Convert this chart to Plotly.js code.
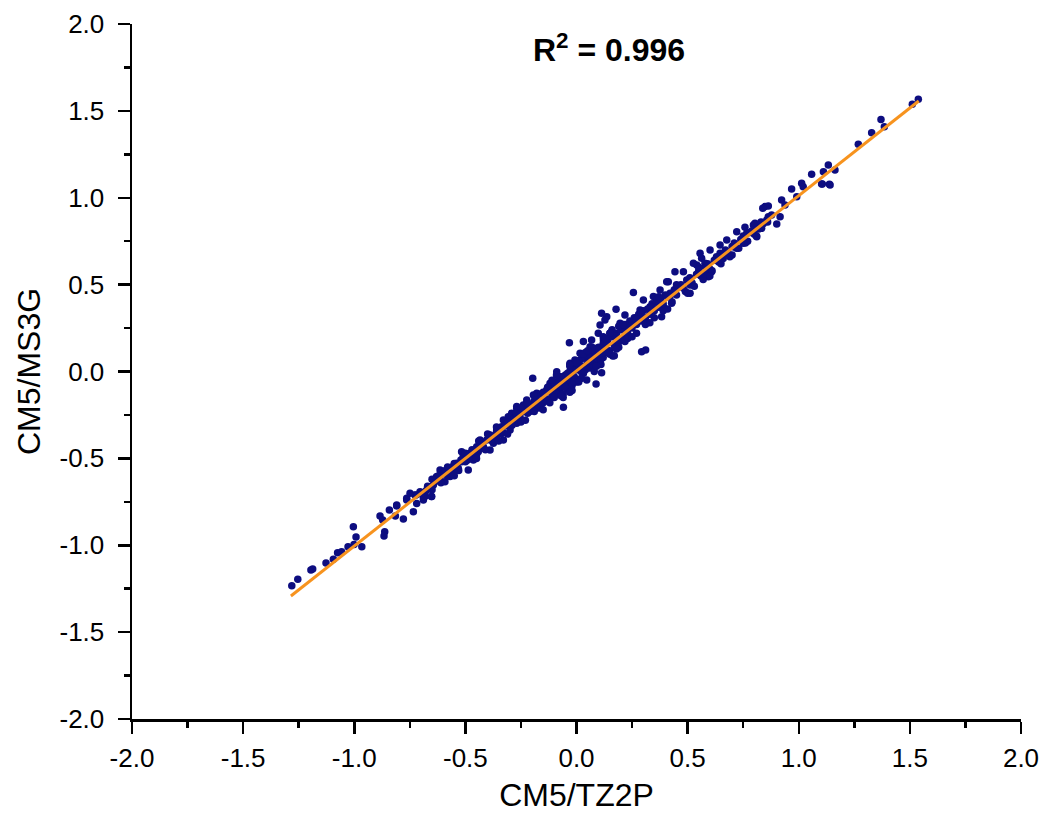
<!DOCTYPE html>
<html>
<head>
<meta charset="utf-8">
<script src="https://cdn.plot.ly/plotly-3.0.1.min.js"></script>
<style>html,body{margin:0;padding:0;background:#fff;}#chart{width:1044px;height:821px;}</style>
</head>
<body>
<div id="chart"></div>
<script>
// CM5/TZ2P (x) vs CM5/MS3G (y) charges
const xVals = [
-1.281,-1.254,-1.195,-1.187,-1.127,-1.094,-1.075,-1.057,-1.028,-1.004,-0.992,-1.001,-0.966,-0.884,-0.863,-0.866,-0.872,-0.842,-0.809,-0.815,-0.779,-0.764,-0.734,-0.722,-0.689,-0.652,
-0.809,-0.764,-0.727,-0.719,-0.682,-0.652,-0.674,-0.644,-0.614,-0.614,-0.592,-0.569,-0.554,-0.532,-0.517,-0.487,-0.494,-0.464,-0.517,-0.442,-0.434,-0.419,-0.389,-0.374,-0.389,-0.359,-0.329,-0.337,-0.314,-0.299,-0.284,-0.269,-0.247,-0.224,-0.269,-0.307,
-0.749,-0.704,-0.659,-0.577,-0.539,-0.472,-0.449,-0.404,-0.359,-0.329,-0.292,-0.254,-0.239,-0.629,
0.178,0.113,0.136,0.106,0.098,-0.032,0.031,0.068,0.158,0.196,0.218,0.163,0.113,0.088,-0.197,-0.059,-0.269,-0.179,-0.119,-0.089,-0.029,0.016,0.061,0.121,0.151,0.211,-0.149,-0.104,-0.074,-0.044,0.001,0.031,-0.014,0.061,0.083,-0.224,-0.194,-0.239,-0.277,0.046,0.091,0.181,0.226,0.128,-0.134,-0.059,-0.007,
0.848,0.863,0.796,0.766,0.721,0.676,0.646,0.601,0.556,0.563,0.541,0.481,0.443,0.511,0.413,0.376,0.346,0.301,0.256,0.286,0.391,0.428,0.511,0.608,0.593,0.690,0.750,0.811,0.833,0.631,0.578,0.496,0.331,0.361,0.421,0.383,0.218,0.646,0.706,0.526,0.406,0.293,0.311,
1.538,1.511,1.370,1.385,1.328,1.268,1.133,1.163,1.111,1.058,1.103,1.138,1.013,1.020,0.968,0.991,0.923,0.938,0.863,0.838,0.916,0.878,0.856,0.901,0.803,0.758,0.826,1.141,1.106,
-0.20,-0.18,-0.17,-0.16,-0.15,-0.14,-0.13,-0.12,-0.11,-0.10,-0.10,-0.09,-0.08,-0.07,-0.07,-0.06,-0.05,-0.05,-0.04,-0.03,-0.03,-0.02,-0.01,-0.01,0.00,0.00,0.01,0.02,0.02,0.03,0.04,0.04,0.05,0.06,0.06,0.07,0.08,0.08,0.09,0.10,0.10,0.11,0.12,0.12,0.13,0.14,0.15,0.16,0.17,0.18,0.19,0.20,0.21,0.22,0.23,0.24,0.25,0.26,0.27,0.28,0.29,0.30,0.31,0.32,0.33,0.34,0.35,0.36,0.37,0.38,0.39,0.40,0.42,0.44,0.45,0.46,0.48,0.50,0.52,0.54,0.56,0.58,0.60,0.62,0.64,0.66,0.68,0.70,0.72,0.74,0.76,0.78,0.80,0.82,0.84,0.86,
-0.70,-0.68,-0.66,-0.64,-0.62,-0.60,-0.58,-0.56,-0.54,-0.52,-0.50,-0.48,-0.46,-0.44,-0.42,-0.40,-0.38,-0.36,-0.34,-0.32,-0.30,-0.28,-0.26,-0.24,-0.22,-0.21,-0.19,
-0.69,-0.67,-0.65,-0.63,-0.61,-0.59,-0.57,-0.55,-0.53,-0.51,
-0.49,-0.47,-0.45,-0.43,-0.41,-0.39,-0.37,-0.35,-0.33,-0.31,
-0.29,-0.27,-0.25,-0.23,-0.21,-0.19,-0.17,-0.15,-0.13,-0.11,
-0.09,-0.07,-0.05,-0.03,-0.01,0.01,0.03,0.05,0.07,0.09,
0.11,0.13,0.15,0.17,0.19,0.21,0.23,0.25,0.27,0.29,
0.31,0.33,0.35,0.37,0.39,0.41,0.43,0.47,0.49,0.51,
0.53,0.55,0.57,0.59,0.61,0.63,0.65,0.67,0.69,0.71,
0.73,0.75,0.77,0.79,0.81,0.83,
-0.25,-0.22,-0.19,-0.16,-0.13,-0.10,-0.08,-0.06,-0.04,-0.02,
0.00,0.02,0.04,0.06,0.08,0.10,0.12,0.14,0.16,0.18,
-0.12,-0.09,-0.03,0.03,0.07,0.11,0.15,0.19,0.23,0.27,
-0.58,-0.44,-0.36,-0.48,-0.62,0.34,0.44,0.58,0.66,0.74,
-0.35,-0.31,-0.27,-0.23,-0.19,-0.15,-0.11,-0.07,-0.03,0.01,
0.05,0.09,0.13,0.17,0.21,0.25,0.29,0.33,0.37,0.41,
-0.55,-0.50,-0.45,-0.40,-0.65,0.45,0.50,0.55,0.60,0.70
];
const yVals = [
-1.233,-1.196,-1.142,-1.137,-1.102,-1.081,-1.043,-1.037,-1.008,-0.893,-0.953,-0.995,-1.008,-0.832,-0.922,-0.947,-0.855,-0.797,-0.768,-0.832,-0.849,-0.740,-0.807,-0.711,-0.740,-0.720,
-0.774,-0.730,-0.711,-0.759,-0.720,-0.720,-0.682,-0.653,-0.624,-0.567,-0.634,-0.605,-0.567,-0.557,-0.519,-0.567,-0.509,-0.509,-0.462,-0.462,-0.394,-0.433,-0.452,-0.413,-0.365,-0.375,-0.394,-0.318,-0.308,-0.337,-0.269,-0.212,-0.231,-0.183,-0.298,-0.260,
-0.701,-0.692,-0.663,-0.577,-0.528,-0.481,-0.433,-0.394,-0.337,-0.279,-0.241,-0.260,-0.193,-0.605,
0.358,0.335,0.315,0.268,0.220,0.166,0.172,0.181,0.229,0.277,0.172,0.089,-0.007,-0.072,-0.039,-0.206,-0.202,-0.125,-0.068,-0.001,0.047,0.105,0.143,0.181,0.220,0.249,-0.164,-0.145,-0.106,-0.068,-0.049,-0.010,0.009,0.047,0.085,-0.164,-0.135,-0.222,-0.241,-0.049,0.134,0.200,0.258,0.296,-0.106,-0.030,0.066,
0.949,0.891,0.843,0.795,0.805,0.757,0.728,0.699,0.680,0.652,0.613,0.574,0.574,0.498,0.517,0.469,0.431,0.412,0.454,0.354,0.373,0.393,0.450,0.574,0.546,0.671,0.738,0.776,0.824,0.641,0.623,0.527,0.373,0.412,0.450,0.315,0.325,0.680,0.718,0.623,0.517,0.114,0.124,
1.567,1.538,1.451,1.409,1.374,1.308,1.189,1.160,1.150,1.135,1.079,1.077,1.083,1.064,1.050,1.006,0.987,0.958,0.953,0.939,0.891,0.901,0.872,0.849,0.853,0.830,0.830,1.073,1.079,
-0.19,-0.16,-0.20,-0.13,-0.18,-0.12,-0.16,-0.10,-0.14,-0.08,-0.12,-0.06,-0.11,-0.04,-0.09,-0.13,-0.02,-0.07,-0.10,0.00,-0.05,-0.08,0.02,-0.03,0.01,-0.06,0.04,0.00,0.07,0.03,0.08,0.01,0.05,0.10,0.02,0.07,0.12,0.04,0.09,0.14,0.06,0.11,0.16,0.08,0.13,0.18,0.12,0.20,0.15,0.22,0.17,0.24,0.19,0.27,0.22,0.29,0.25,0.31,0.27,0.33,0.29,0.35,0.31,0.36,0.33,0.39,0.35,0.40,0.37,0.42,0.39,0.44,0.43,0.47,0.44,0.49,0.48,0.52,0.51,0.56,0.55,0.60,0.59,0.64,0.63,0.67,0.68,0.72,0.71,0.76,0.74,0.80,0.79,0.82,0.85,0.86,
-0.70,-0.69,-0.67,-0.63,-0.63,-0.59,-0.60,-0.55,-0.56,-0.51,-0.52,-0.47,-0.48,-0.43,-0.44,-0.39,-0.40,-0.35,-0.36,-0.31,-0.32,-0.27,-0.28,-0.22,-0.24,-0.20,-0.21,
-0.72,-0.66,-0.68,-0.61,-0.64,-0.57,-0.59,-0.53,-0.57,-0.49,
-0.51,-0.45,-0.48,-0.41,-0.45,-0.37,-0.39,-0.33,-0.35,-0.29,
-0.31,-0.25,-0.29,-0.20,-0.23,-0.17,-0.21,-0.12,-0.17,-0.07,
-0.13,-0.03,-0.09,0.03,-0.06,0.06,-0.01,0.09,0.04,0.13,
0.07,0.17,0.10,0.21,0.14,0.24,0.19,0.28,0.22,0.32,
0.27,0.36,0.31,0.40,0.35,0.43,0.40,0.50,0.46,0.54,
0.49,0.58,0.53,0.62,0.58,0.66,0.62,0.70,0.66,0.74,
0.71,0.78,0.75,0.81,0.78,0.86,
-0.21,-0.18,-0.23,-0.19,-0.09,-0.15,-0.03,-0.15,-0.01,-0.11,
0.05,-0.04,0.11,0.06,0.00,0.10,0.20,0.11,0.24,0.13,
-0.18,-0.02,-0.12,0.10,0.14,0.04,0.22,0.26,0.25,0.30,
-0.55,-0.40,-0.32,-0.50,-0.60,0.37,0.46,0.56,0.65,0.76,
-0.40,-0.36,-0.24,-0.28,-0.14,-0.22,-0.05,-0.14,0.04,-0.06,
0.12,0.03,0.19,0.09,0.27,0.20,0.34,0.28,0.43,0.36,
-0.60,-0.47,-0.50,-0.36,-0.62,0.50,0.45,0.60,0.55,0.67
];
// fitted line endpoints
const fitX = [-1.285, 1.540];
const fitY = [-1.292, 1.557];
// axis ticks
const tickVals = [-2, -1.5, -1, -0.5, 0, 0.5, 1, 1.5, 2];
const tickText = ['-2.0', '-1.5', '-1.0', '-0.5', '0.0', '0.5', '1.0', '1.5', '2.0'];
const r2Label = 'R<sup>2</sup> = 0.996';
const xTitle = 'CM5/TZ2P';
const yTitle = 'CM5/MS3G';

const font = 'Liberation Sans, Arial, sans-serif';
const traces = [
  {x: xVals, y: yVals, type: 'scatter', mode: 'markers',
   marker: {color: '#0d0d80', size: 7.5, line: {width: 0}}, hoverinfo: 'skip'},
  {x: fitX, y: fitY, type: 'scatter', mode: 'lines',
   line: {color: '#f7931e', width: 3}, hoverinfo: 'skip'}
];
const axisCommon = {
  range: [-2, 2], tickmode: 'array', tickvals: tickVals, ticktext: tickText,
  showgrid: false, zeroline: false, showline: true, linecolor: '#000', linewidth: 2.5,
  ticks: 'outside', ticklen: 12, tickwidth: 2.5, tickcolor: '#000',
  minor: {tickmode: 'linear', tick0: -2, dtick: 0.25, ticks: 'outside', ticklen: 6, tickwidth: 2.5, tickcolor: '#000', showgrid: false},
  tickfont: {family: font, size: 26, color: '#000'},
  automargin: false, fixedrange: true
};
const layout = {
  width: 1044, height: 821,
  margin: {l: 132, r: 23, t: 24, b: 102},
  paper_bgcolor: '#fff', plot_bgcolor: '#fff',
  showlegend: false,
  xaxis: Object.assign({}, axisCommon, {ticklabelstandoff: 2, title: {text: xTitle, font: {family: font, size: 32, color: '#000'}, standoff: 12}}),
  yaxis: Object.assign({}, axisCommon, {ticklabelstandoff: 8, title: {text: yTitle, font: {family: font, size: 32, color: '#000'}, standoff: 10}}),
  annotations: [{
    text: r2Label, xref: 'paper', yref: 'paper', x: 0.537, y: 0.965,
    xanchor: 'center', yanchor: 'middle', showarrow: false,
    font: {family: font, size: 32, color: '#000', weight: 'bold'}
  }]
};
Plotly.newPlot('chart', traces, layout, {displayModeBar: false, staticPlot: true});
</script>
</body>
</html>
